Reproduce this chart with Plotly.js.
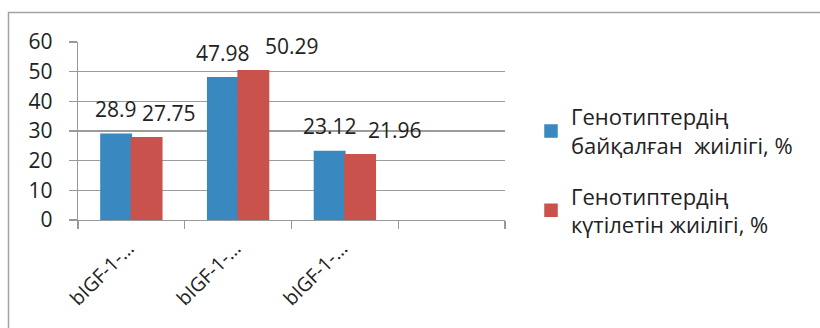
<!DOCTYPE html>
<html>
<head>
<meta charset="utf-8">
<script src="https://cdn.plot.ly/plotly-3.0.1.min.js"></script>
<style>html,body{margin:0;padding:0;background:#fff;}#chart{width:820px;height:328px;}</style>
</head>
<body>
<div id="chart"></div>
<script>
// Data
var categories = ['bIGF-1-AA', 'bIGF-1-AB', 'bIGF-1-BB', 'empty'];
var tickLabels = ['bIGF-1-…', 'bIGF-1-…', 'bIGF-1-…', ''];
var observed = [28.9, 47.98, 23.12];
var expected = [27.75, 50.29, 21.96];
var observedLabels = ['28.9', '47.98', '23.12'];
var expectedLabels = ['27.75', '50.29', '21.96'];
var seriesNames = ['Генотиптердің<br>байқалған  жиілігі, %', 'Генотиптердің<br>күтілетін жиілігі, %'];
var yTicks = [0, 10, 20, 30, 40, 50, 60];

// Styling
var FONT = 'Open Sans, Noto Sans, sans-serif';
var blue = '#3a88c0';
var red = '#c9534c';
var expectedLabelShift = [23, 39, 35];

var cats3 = categories.slice(0, 3);

var traces = [
  {type: 'bar', x: cats3, y: observed, name: seriesNames[0], legendgroup: 'g1', marker: {color: blue, line: {color: blue, width: 1.5}}, hoverinfo: 'none'},
  {type: 'bar', x: cats3, y: expected, name: seriesNames[1], legendgroup: 'g2', marker: {color: red, line: {color: red, width: 1.5}}, hoverinfo: 'none'}
];

var annotations = [];
for (var i = 0; i < cats3.length; i++) {
  annotations.push({x: cats3[i], y: observed[i], xref: 'x', yref: 'y', text: observedLabels[i],
    showarrow: false, xshift: -15, yshift: 25, yanchor: 'middle', font: {family: FONT, size: 21, color: '#222'}});
  annotations.push({x: cats3[i], y: expected[i], xref: 'x', yref: 'y', text: expectedLabels[i],
    showarrow: false, xshift: 15 + expectedLabelShift[i], yshift: 25, yanchor: 'middle', font: {family: FONT, size: 21, color: '#222'}});
}

// plot area: x 78..505, y 42..220
var L = 78, R = 505, T = 42, B = 220, W = 820, H = 328;
function px(x) { return (x - L) / (R - L); }
function py(y) { return (B - y) / (B - T); }

var layout = {
  width: W, height: H,
  margin: {l: L, r: W - R, t: T, b: H - B, pad: 0},
  paper_bgcolor: '#fff', plot_bgcolor: '#fff',
  barmode: 'group', bargap: 0.43, bargroupgap: 0,
  showlegend: true,
  font: {family: FONT, color: '#222'},
  xaxis: {
    type: 'category', categoryorder: 'array', categoryarray: categories,
    tickvals: categories, ticktext: tickLabels,
    tickson: 'boundaries', ticks: 'outside', ticklen: 8, tickcolor: '#999', tickwidth: 1.3,
    showline: true, linecolor: '#999', linewidth: 1.3, showgrid: false,
    tickangle: -45, tickfont: {family: FONT, size: 19.5, color: '#222'},
    ticklabelshift: -3, ticklabelstandoff: 8,
    range: [-0.5, 3.5], fixedrange: true
  },
  yaxis: {
    range: [0, 60], tickvals: yTicks, ticktext: yTicks.map(String),
    ticks: 'outside', ticklen: 8, tickcolor: '#999', tickwidth: 1.3,
    showline: true, linecolor: '#999', linewidth: 1.3,
    showgrid: true, gridcolor: '#9c9c9c', gridwidth: 1.3, zeroline: false,
    tickfont: {family: FONT, size: 21, color: '#222'}, ticklabelstandoff: 12, fixedrange: true
  },
  legend: {
    x: px(531), y: py(96), xanchor: 'left', yanchor: 'top',
    font: {family: FONT, size: 22, color: '#222'}, tracegroupgap: 19,
    bgcolor: 'rgba(0,0,0,0)', itemwidth: 30
  },
  annotations: annotations,
  shapes: [{
    type: 'path', xref: 'paper', yref: 'paper',
    path: 'M ' + px(8.5) + ' ' + py(H + 2) + ' L ' + px(8.5) + ' ' + py(12.5) + ' L ' + px(W + 2) + ' ' + py(12.5),
    line: {color: '#a3a3a3', width: 1.5}
  }]
};

Plotly.newPlot('chart', traces, layout, {displayModeBar: false, staticPlot: true});
</script>
</body>
</html>
